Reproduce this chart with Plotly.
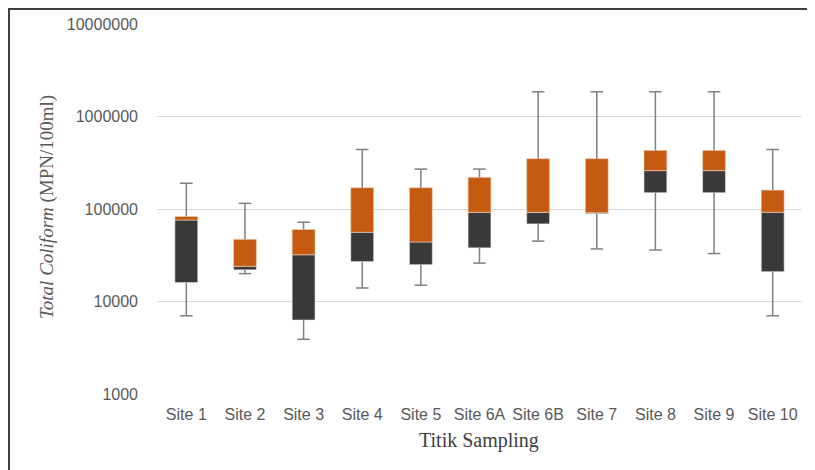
import plotly.graph_objects as go

sites = ["Site 1", "Site 2", "Site 3", "Site 4", "Site 5", "Site 6A",
         "Site 6B", "Site 7", "Site 8", "Site 9", "Site 10"]
v_min = [7000, 20000, 3900, 14000, 15000, 26000, 45000, 37000, 36000, 33000, 7000]
v_q1 = [16000, 22000, 6300, 27000, 25000, 38000, 69000, 89000, 150000, 150000, 21000]
v_med = [76000, 24000, 32000, 56000, 44000, 92000, 92000, 91000, 260000, 260000, 92000]
v_q3 = [83000, 47000, 60000, 170000, 170000, 220000, 350000, 350000, 430000, 430000, 160000]
v_max = [190000, 115000, 72000, 440000, 270000, 270000, 1850000, 1850000, 1850000, 1850000, 440000]

DARK = "#3B3838"
ORANGE = "#C55A11"
WHISK = "#808080"

fig = go.Figure()

# whisker lines (min->q1 and q3->max)
wx, wy = [], []
for s, a, b, c, d in zip(sites, v_min, v_q1, v_q3, v_max):
    wx += [s, s, None, s, s, None]
    wy += [a, b, None, c, d, None]
fig.add_trace(go.Scatter(x=wx, y=wy, mode="lines",
                         line=dict(color=WHISK, width=1.5),
                         hoverinfo="skip", showlegend=False))
# caps
fig.add_trace(go.Scatter(x=sites + sites, y=v_min + v_max, mode="markers",
                         marker=dict(symbol="line-ew", size=9,
                                     line=dict(color=WHISK, width=1.5)),
                         hoverinfo="skip", showlegend=False))

# lower box: q1 -> median
fig.add_trace(go.Bar(x=sites, base=v_q1,
                     y=[m - q for m, q in zip(v_med, v_q1)],
                     marker=dict(color=DARK, line=dict(width=0.6, color="#e8e8e8")),
                     width=0.39, showlegend=False, hoverinfo="skip"))
# upper box: median -> q3
fig.add_trace(go.Bar(x=sites, base=v_med,
                     y=[q - m for q, m in zip(v_q3, v_med)],
                     marker=dict(color=ORANGE, line=dict(width=0.6, color="#f0d0b8")),
                     width=0.39, showlegend=False, hoverinfo="skip"))

OFF = 8  # page body margin in the browser
W, H = 815 - OFF, 470 - OFF
# plot area in page pixels: x 157..802, y 24..394
L, T = 157 - OFF, 24 - OFF
R, B = W - (802 - OFF), H - (394 - OFF)
pw, ph = W - L - R, H - T - B


def px_x(p):
    return (p - OFF - L) / pw


def px_y(p):
    return 1 - (p - OFF - T) / ph


fig.update_layout(
    width=W, height=H,
    margin=dict(l=L, r=R, t=T, b=B, autoexpand=False),
    paper_bgcolor="white", plot_bgcolor="white",
    barmode="overlay",
    font=dict(family="Liberation Sans, Arial, sans-serif", size=16, color="#595959"),
    xaxis=dict(
        type="category", categoryorder="array", categoryarray=sites,
        range=[-0.5, len(sites) - 0.5],
        showgrid=False, showline=False, zeroline=False,
        automargin=False, ticks="", ticklabelstandoff=9,
        tickfont=dict(size=16, color="#595959"),
    ),
    yaxis=dict(
        type="log", range=[3, 7], dtick=1, tickformat="d",
        showgrid=True, gridcolor="#d9d9d9", gridwidth=1,
        showline=False, zeroline=False, ticks="", automargin=False,
        ticklabelstandoff=18,
        tickfont=dict(size=16, color="#595959"),
    ),
    annotations=[
        dict(text="<i>Total Coliform</i> (MPN/100ml)", textangle=-90,
             xref="paper", yref="paper", x=px_x(47), y=px_y(207),
             xanchor="center", yanchor="middle", showarrow=False,
             font=dict(family="Liberation Serif, Times New Roman, serif",
                       size=19, color="#595959")),
        dict(text="Titik Sampling",
             xref="paper", yref="paper", x=px_x(479), y=px_y(440),
             xanchor="center", yanchor="middle", showarrow=False,
             font=dict(family="Liberation Serif, Times New Roman, serif",
                       size=20, color="#404040")),
    ],
    shapes=[
        dict(type="line", xref="paper", yref="paper",
             x0=px_x(9), x1=px_x(9), y0=px_y(8), y1=px_y(471),
             line=dict(color="#404040", width=2)),
        dict(type="line", xref="paper", yref="paper",
             x0=px_x(8), x1=px_x(816), y0=px_y(9), y1=px_y(9),
             line=dict(color="#404040", width=2)),
    ],
)

fig.write_html("out.html")
